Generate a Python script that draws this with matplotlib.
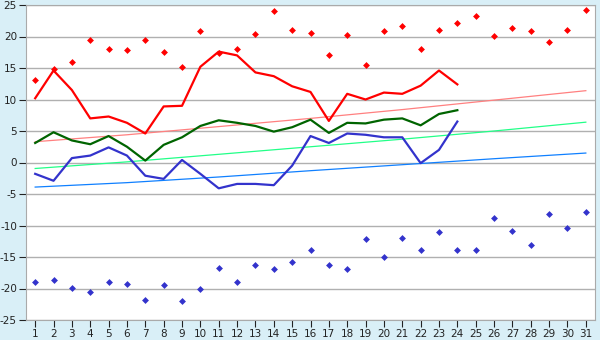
import matplotlib
matplotlib.use("Agg")
import matplotlib.pyplot as plt

plt.rcParams['axes.unicode_minus'] = False

days = list(range(1, 32))
# record highs / lows per day
recordMax = [13.1, 14.8, 16.0, 19.5, 18.0, 17.9, 19.5, 17.6, 15.2, 20.9,
             17.4, 18.0, 20.4, 24.0, 21.0, 20.5, 17.0, 20.2, 15.5, 20.9,
             21.6, 18.0, 21.0, 22.1, 23.2, 20.1, 21.3, 20.9, 19.1, 21.0, 24.2]
recordMin = [-19.0, -18.7, -19.9, -20.6, -19.0, -19.3, -21.8, -19.5, -22.0, -20.0,
             -16.8, -19.0, -16.3, -16.9, -15.8, -13.9, -16.3, -16.9, -12.2, -15.0,
             -12.0, -13.9, -11.0, -13.9, -13.9, -8.8, -10.9, -13.1, -8.2, -10.4, -7.9]

# current month, days 1..24
curDays = list(range(1, 25))
curMax = [10.2, 14.6, 11.5, 7.0, 7.3, 6.3, 4.6, 8.9, 9.0, 15.2, 17.6, 17.0,
          14.3, 13.7, 12.1, 11.2, 6.6, 10.9, 10.0, 11.1, 10.9, 12.2, 14.6, 12.4]
curAvg = [3.1, 4.8, 3.5, 2.9, 4.2, 2.5, 0.3, 2.8, 4.0, 5.8, 6.7, 6.3,
          5.8, 4.9, 5.6, 6.8, 4.7, 6.3, 6.2, 6.8, 7.0, 5.9, 7.7, 8.3]
curMin = [-1.8, -2.9, 0.7, 1.1, 2.4, 1.1, -2.1, -2.6, 0.4, -1.8, -4.1, -3.4,
          -3.4, -3.6, -0.5, 4.2, 3.1, 4.6, 4.4, 4.0, 4.0, -0.1, 2.0, 6.5]

# long-term normals (read at a few days)
normDays = [1, 6, 11, 16, 21, 26, 31]
normMax = [3.3, 4.4, 5.7, 7.0, 8.4, 9.9, 11.4]
normAvg = [-0.95, 0.1, 1.3, 2.5, 3.7, 5.0, 6.4]
normMin = [-3.9, -3.2, -2.3, -1.3, -0.35, 0.6, 1.5]

fig = plt.figure(figsize=(6, 3.4), dpi=100, facecolor='#d9eff7')
ax = fig.add_axes([26/600, 20/340, 569/600, 315/340])
ax.set_facecolor('white')

ax.plot(normDays, normMax, color='#ff8080', lw=0.9)
ax.plot(normDays, normAvg, color='#22ff88', lw=0.9)
ax.plot(normDays, normMin, color='#1080ff', lw=0.9)

ax.plot(curDays, curMax, color='#ff0000', lw=1.6)
ax.plot(curDays, curAvg, color='#006400', lw=1.6)
ax.plot(curDays, curMin, color='#3333cc', lw=1.6)

ax.plot(days, recordMax, 'D', color='#ff0000', ms=3.5, mew=0)
ax.plot(days, recordMin, 'D', color='#3333cc', ms=3.5, mew=0)

ax.set_xlim(0.5, 31.5)
ax.set_ylim(-25, 25)
ax.set_xticks(days)
ax.set_yticks(range(-25, 26, 5))
ax.yaxis.grid(True, color='#b0b0b0', lw=1)
ax.set_axisbelow(True)
ax.tick_params(labelsize=7.5, length=5, width=0.8, pad=1.5, colors='#222222')
for s in ax.spines.values():
    s.set_color('#aaaaaa')

fig.savefig('out.png', dpi=100, facecolor=fig.get_facecolor())
